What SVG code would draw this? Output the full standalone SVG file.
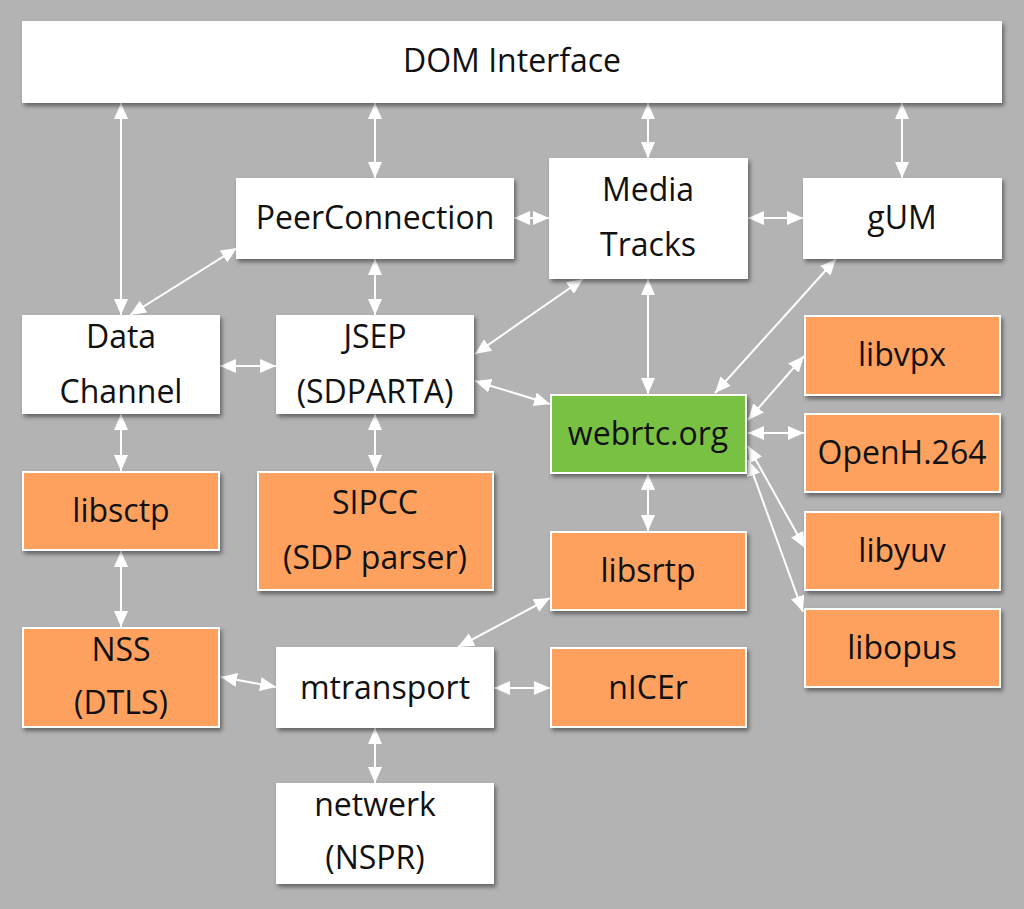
<svg xmlns="http://www.w3.org/2000/svg" width="1024" height="909" viewBox="0 0 1024 909">
<defs>
<filter id="sh" x="-10%" y="-10%" width="130%" height="140%">
<feDropShadow dx="2" dy="3" stdDeviation="2" flood-color="#000" flood-opacity="0.45"/>
</filter>
<marker id="ah" markerUnits="userSpaceOnUse" markerWidth="16" markerHeight="14" refX="16" refY="7" orient="auto-start-reverse" viewBox="0 0 16 14">
<path d="M0,0 L16,7 L0,14 z" fill="#fff"/>
</marker>
<style>
.w{fill:#fff;stroke:#fff;stroke-width:2;filter:url(#sh)}
.o{fill:#fea15f;stroke:#fff;stroke-width:2;filter:url(#sh)}
.g{fill:#79c142;stroke:#fff;stroke-width:2;filter:url(#sh)}
text{font-family:"Open Sans","Noto Sans","DejaVu Sans",sans-serif;font-size:32px;fill:#111;text-anchor:middle}
.c line{stroke:#fff;stroke-width:2;marker-start:url(#ah);marker-end:url(#ah)}
</style>
</defs>
<rect width="1024" height="909" fill="#b3b3b3"/>
<g class="c" id="connectors">
<line x1="121" y1="103" x2="121" y2="315"/>
<line x1="375" y1="103" x2="375" y2="178"/>
<line x1="648" y1="103" x2="648" y2="158"/>
<line x1="902" y1="103" x2="902" y2="178"/>
<line x1="514" y1="218" x2="549" y2="218"/>
<line x1="748" y1="218" x2="803" y2="218"/>
<line x1="130" y1="315" x2="237" y2="248"/>
<line x1="375" y1="259" x2="375" y2="315"/>
<line x1="220" y1="366" x2="276" y2="366"/>
<line x1="475" y1="354" x2="583" y2="279"/>
<line x1="475" y1="381" x2="550" y2="404"/>
<line x1="648" y1="279" x2="648" y2="394"/>
<line x1="836" y1="259" x2="715" y2="393"/>
<line x1="748" y1="420" x2="804" y2="356"/>
<line x1="748" y1="433" x2="804" y2="433"/>
<line x1="748" y1="446" x2="805" y2="548"/>
<line x1="748" y1="460" x2="803" y2="612"/>
<line x1="648" y1="474" x2="648" y2="531"/>
<line x1="375" y1="414" x2="375" y2="471"/>
<line x1="121" y1="414" x2="121" y2="471"/>
<line x1="121" y1="551" x2="121" y2="627"/>
<line x1="221" y1="677" x2="276" y2="687"/>
<line x1="458" y1="647" x2="550" y2="598"/>
<line x1="494" y1="688" x2="550" y2="688"/>
<line x1="375" y1="728" x2="375" y2="783"/>
</g>
<g id="dom"><rect class="w" x="23" y="22" width="978" height="80"/><text x="512" y="72">DOM Interface</text></g>
<g id="peerconnection"><rect class="w" x="237" y="179" width="276" height="79"/><text x="375" y="229">PeerConnection</text></g>
<g id="mediatracks"><rect class="w" x="550" y="159" width="197" height="119"/><text x="648" y="201">Media</text><text x="648" y="256">Tracks</text></g>
<g id="gum"><rect class="w" x="804" y="179" width="197" height="79"/><text x="902" y="229">gUM</text></g>
<g id="datachannel"><rect class="w" x="23" y="316" width="196" height="97"/><text x="121" y="348">Data</text><text x="121" y="403">Channel</text></g>
<g id="jsep"><rect class="w" x="277" y="316" width="196" height="97"/><text x="375" y="348">JSEP</text><text x="375" y="403">(SDPARTA)</text></g>
<g id="webrtc"><rect class="g" x="551" y="395" width="195" height="78"/><text x="648" y="445">webrtc.org</text></g>
<g id="libvpx"><rect class="o" x="805" y="316" width="195" height="79"/><text x="902" y="366">libvpx</text></g>
<g id="openh264"><rect class="o" x="805" y="414" width="195" height="78"/><text x="902" y="464">OpenH.264</text></g>
<g id="libyuv"><rect class="o" x="805" y="512" width="195" height="78"/><text x="902" y="562">libyuv</text></g>
<g id="libopus"><rect class="o" x="805" y="609" width="195" height="78"/><text x="902" y="659">libopus</text></g>
<g id="libsctp"><rect class="o" x="23" y="472" width="196" height="78"/><text x="121" y="522">libsctp</text></g>
<g id="sipcc"><rect class="o" x="258" y="472" width="235" height="118"/><text x="375" y="514">SIPCC</text><text x="375" y="569">(SDP parser)</text></g>
<g id="libsrtp"><rect class="o" x="551" y="532" width="195" height="78"/><text x="648" y="582">libsrtp</text></g>
<g id="nss"><rect class="o" x="23" y="628" width="196" height="99"/><text x="121" y="661">NSS</text><text x="121" y="714">(DTLS)</text></g>
<g id="mtransport"><rect class="w" x="277" y="648" width="216" height="79"/><text x="385" y="699">mtransport</text></g>
<g id="nicer"><rect class="o" x="551" y="648" width="195" height="79"/><text x="648" y="699">nICEr</text></g>
<g id="netwerk"><rect class="w" x="277" y="784" width="216" height="99"/><text x="375" y="816">netwerk</text><text x="375" y="869">(NSPR)</text></g>
</svg>
